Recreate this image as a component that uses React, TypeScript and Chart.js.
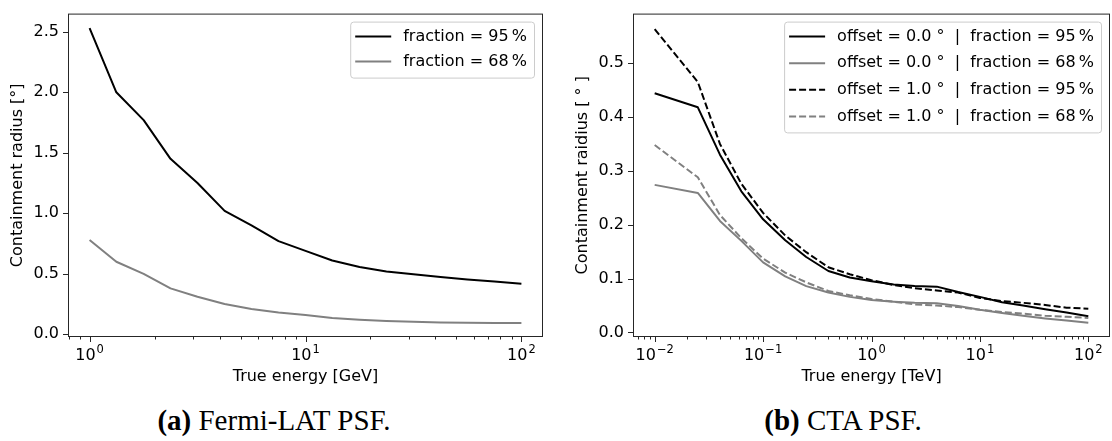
import React, { useEffect, useLayoutEffect, useRef } from 'react';
import { Chart, registerables } from 'chart.js';

Chart.register(...registerables);

const FONT = "'DejaVu Sans', sans-serif";

// ---------- (a) Fermi-LAT PSF ----------
const FERMI_ENERGY_GEV = [1, 1.33, 1.78, 2.37, 3.16, 4.22, 5.62, 7.5, 10, 13.3, 17.8, 23.7, 31.6, 42.2, 56.2, 75, 100];
const FERMI_R95 = [2.53, 2.0, 1.77, 1.45, 1.25, 1.02, 0.9, 0.77, 0.69, 0.61, 0.556, 0.52, 0.497, 0.473, 0.454, 0.436, 0.417];
const FERMI_R68 = [0.78, 0.6, 0.5, 0.38, 0.31, 0.25, 0.21, 0.18, 0.16, 0.135, 0.12, 0.11, 0.103, 0.098, 0.095, 0.094, 0.093];
const FERMI_X_TICKS = [1, 10, 100];
const FERMI_X_EXPONENTS = ['0', '1', '2'];
const FERMI_Y_TICKS = [0, 0.5, 1.0, 1.5, 2.0, 2.5];
const FERMI_LABELS = ['fraction = 95\u2009%', 'fraction = 68\u2009%'];

// ---------- (b) CTA PSF ----------
const CTA_ENERGY_TEV = [0.01, 0.025, 0.04, 0.063, 0.1, 0.16, 0.25, 0.4, 0.63, 1, 1.6, 2.5, 4, 6.3, 10, 16, 25, 40, 63, 100];
const CTA_OFF0_R95 = [0.444, 0.418, 0.33, 0.262, 0.21, 0.171, 0.14, 0.114, 0.102, 0.095, 0.089, 0.086, 0.085, 0.075, 0.066, 0.056, 0.05, 0.043, 0.037, 0.03];
const CTA_OFF0_R68 = [0.274, 0.259, 0.207, 0.17, 0.13, 0.104, 0.086, 0.074, 0.066, 0.06, 0.057, 0.055, 0.054, 0.049, 0.042, 0.036, 0.031, 0.026, 0.022, 0.018];
const CTA_OFF1_R95 = [0.563, 0.465, 0.35, 0.276, 0.222, 0.18, 0.149, 0.121, 0.108, 0.097, 0.088, 0.082, 0.078, 0.074, 0.064, 0.058, 0.055, 0.051, 0.046, 0.044];
const CTA_OFF1_R68 = [0.348, 0.288, 0.218, 0.175, 0.137, 0.111, 0.093, 0.077, 0.069, 0.062, 0.057, 0.052, 0.05, 0.047, 0.042, 0.038, 0.035, 0.031, 0.029, 0.027];
const CTA_X_TICKS = [0.01, 0.1, 1, 10, 100];
const CTA_X_EXPONENTS = ['\u22122', '\u22121', '0', '1', '2'];
const CTA_Y_TICKS = [0, 0.1, 0.2, 0.3, 0.4, 0.5];
const CTA_LABELS = [
  'offset = 0.0 \u00B0  |  fraction = 95\u2009%',
  'offset = 0.0 \u00B0  |  fraction = 68\u2009%',
  'offset = 1.0 \u00B0  |  fraction = 95\u2009%',
  'offset = 1.0 \u00B0  |  fraction = 68\u2009%',
];

const BLACK = '#000000';
const GRAY = '#808080';
const DASH = [7, 3];

const W = 556;
const H = 400;

const pts = (xs: number[], ys: number[]) => xs.map((x, i) => ({ x, y: ys[i] }));

const mplPlugin = {
  id: 'mpl',
  afterDraw(chart: any, _args: any, opts: any) {
    const { ctx, chartArea: a, scales } = chart;
    const xs = scales.x;
    const ys = scales.y;
    ctx.save();
    ctx.strokeStyle = '#262626';
    ctx.lineWidth = 1;
    ctx.setLineDash([]);
    ctx.beginPath();
    const lo = Math.floor(Math.log10(xs.min));
    const hi = Math.ceil(Math.log10(xs.max));
    for (let d = lo; d <= hi; d++) {
      for (let k = 1; k <= 9; k++) {
        const v = k * Math.pow(10, d);
        if (v < xs.min || v > xs.max) continue;
        const px = Math.round(xs.getPixelForValue(v)) + 0.5;
        const len = k === 1 ? 5 : 2.5;
        ctx.moveTo(px, a.bottom);
        ctx.lineTo(px, a.bottom + len);
      }
    }
    ys.ticks.forEach((t: any) => {
      const py = Math.round(ys.getPixelForValue(t.value)) + 0.5;
      ctx.moveTo(a.left, py);
      ctx.lineTo(a.left - 5, py);
    });
    ctx.stroke();
    ctx.strokeRect(a.left + 0.5, a.top + 0.5, a.right - a.left - 1, a.bottom - a.top - 1);

    // x tick labels as 10^n with a real superscript
    const exps: string[] = opts.exponents;
    ctx.fillStyle = '#000';
    ctx.textBaseline = 'alphabetic';
    ctx.textAlign = 'left';
    xs.ticks.forEach((t: any, i: number) => {
      const px = xs.getPixelForValue(t.value);
      ctx.font = `16px ${FONT}`;
      const wb = ctx.measureText('10').width;
      ctx.font = `11.5px ${FONT}`;
      const we = ctx.measureText(exps[i]).width;
      const x0 = px - (wb + we + 1) / 2;
      const base = a.bottom + 23;
      ctx.font = `16px ${FONT}`;
      ctx.fillText('10', x0, base);
      ctx.font = `11.5px ${FONT}`;
      ctx.fillText(exps[i], x0 + wb + 1, base - 7);
    });

    // legend (matplotlib style, upper right)
    const items = chart.data.datasets;
    ctx.font = `16px ${FONT}`;
    const tw = Math.max(...items.map((d: any) => ctx.measureText(d.label).width));
    const rowH = opts.rowHeight;
    const w = 5 + 36 + 12 + tw + 7;
    const h = 15 + rowH * (items.length - 1) + 16;
    const lx = a.right - 9 - w;
    const ly = a.top + 8;
    ctx.beginPath();
    ctx.roundRect(lx + 0.5, ly + 0.5, w, h, 3);
    ctx.fillStyle = 'rgba(255,255,255,0.8)';
    ctx.fill();
    ctx.strokeStyle = '#cccccc';
    ctx.lineWidth = 1;
    ctx.stroke();
    items.forEach((d: any, i: number) => {
      const cy = ly + 15 + i * rowH;
      ctx.beginPath();
      ctx.strokeStyle = d.borderColor;
      ctx.lineWidth = d.borderWidth;
      ctx.setLineDash(d.borderDash || []);
      ctx.moveTo(lx + 5, cy);
      ctx.lineTo(lx + 41, cy);
      ctx.stroke();
      ctx.setLineDash([]);
      ctx.fillStyle = '#000';
      ctx.textBaseline = 'middle';
      ctx.textAlign = 'left';
      ctx.font = `16px ${FONT}`;
      ctx.fillText(d.label, lx + 53, cy);
    });
    ctx.restore();
  },
};

function makeConfig(p: {
  datasets: any[];
  xMin: number; xMax: number; xTicks: number[]; xExponents: string[]; xTitle: string;
  yMin: number; yMax: number; yTicks: number[]; yTitle: string;
  yAxisWidth: number; yTitlePad: number; rightPad: number; rowHeight: number;
}) {
  return {
    type: 'line',
    data: { datasets: p.datasets },
    plugins: [mplPlugin],
    options: {
      animation: false,
      responsive: false,
      layout: { padding: { top: 4, right: p.rightPad, left: 0, bottom: 0 } },
      plugins: {
        legend: { display: false },
        tooltip: { enabled: false },
        mpl: { rowHeight: p.rowHeight, exponents: p.xExponents },
      },
      elements: { point: { radius: 0 }, line: { tension: 0, borderCapStyle: 'butt', borderJoinStyle: 'round' } },
      scales: {
        x: {
          type: 'logarithmic',
          min: p.xMin,
          max: p.xMax,
          afterBuildTicks: (s: any) => { s.ticks = p.xTicks.map((v) => ({ value: v })); },
          afterFit: (s: any) => { s.height = H - 337; },
          grid: { display: true, drawOnChartArea: false, drawTicks: true, tickLength: 5, color: 'rgba(0,0,0,0)' },
          border: { display: false },
          ticks: {
            autoSkip: false, maxRotation: 0, padding: 2, color: 'rgba(0,0,0,0)',
            font: { family: FONT, size: 16 },
            callback: (_v: any, i: number) => '10' + p.xExponents[i],
          },
          title: { display: true, text: p.xTitle, color: '#000', font: { family: FONT, size: 16 }, padding: { top: 0, bottom: 14 } },
        },
        y: {
          type: 'linear',
          min: p.yMin,
          max: p.yMax,
          afterBuildTicks: (s: any) => { s.ticks = p.yTicks.map((v) => ({ value: v })); },
          afterFit: (s: any) => { s.width = p.yAxisWidth; },
          grid: { display: true, drawOnChartArea: false, drawTicks: true, tickLength: 5, color: 'rgba(0,0,0,0)' },
          border: { display: false },
          ticks: {
            autoSkip: false, padding: 4, color: '#000',
            font: { family: FONT, size: 16 },
            callback: (v: any) => Number(v).toFixed(1),
          },
          title: { display: true, text: p.yTitle, color: '#000', font: { family: FONT, size: 16 }, padding: { top: p.yTitlePad, bottom: 0 } },
        },
      },
    },
  };
}

function ChartCanvas({ config, left }: { config: any; left: number }) {
  const ref = useRef<HTMLCanvasElement>(null);
  useEffect(() => {
    const c = new Chart(ref.current as HTMLCanvasElement, config);
    return () => c.destroy();
  }, [config]);
  return <canvas ref={ref} width={W} height={H} style={{ position: 'absolute', left, top: 0, width: W, height: H }} />;
}

const line = (label: string, xs: number[], ys: number[], color: string, dashed: boolean, order: number) => ({
  label,
  data: pts(xs, ys),
  borderColor: color,
  backgroundColor: color,
  borderWidth: 2,
  borderDash: dashed ? DASH : [],
  fill: false,
  pointRadius: 0,
  order,
});

const fermiConfig = makeConfig({
  datasets: [
    line(FERMI_LABELS[0], FERMI_ENERGY_GEV, FERMI_R95, BLACK, false, 2),
    line(FERMI_LABELS[1], FERMI_ENERGY_GEV, FERMI_R68, GRAY, false, 1),
  ],
  xMin: Math.pow(10, -0.1), xMax: Math.pow(10, 2.1), xTicks: FERMI_X_TICKS, xExponents: FERMI_X_EXPONENTS,
  xTitle: 'True energy [GeV]',
  yMin: -0.022, yMax: 2.65, yTicks: FERMI_Y_TICKS, yTitle: 'Containment radius [\u00B0]',
  yAxisWidth: 68, yTitlePad: 8, rightPad: W - 543, rowHeight: 25,
});

const ctaConfig = makeConfig({
  datasets: [
    line(CTA_LABELS[0], CTA_ENERGY_TEV, CTA_OFF0_R95, BLACK, false, 4),
    line(CTA_LABELS[1], CTA_ENERGY_TEV, CTA_OFF0_R68, GRAY, false, 3),
    line(CTA_LABELS[2], CTA_ENERGY_TEV, CTA_OFF1_R95, BLACK, true, 2),
    line(CTA_LABELS[3], CTA_ENERGY_TEV, CTA_OFF1_R68, GRAY, true, 1),
  ],
  xMin: Math.pow(10, -2.2), xMax: Math.pow(10, 2.2), xTicks: CTA_X_TICKS, xExponents: CTA_X_EXPONENTS,
  xTitle: 'True energy [TeV]',
  yMin: -0.0085, yMax: 0.592, yTicks: CTA_Y_TICKS, yTitle: 'Containment raidius [ \u00B0 ]',
  yAxisWidth: 77, yTitlePad: 17, rightPad: W - 554, rowHeight: 26.6,
});

const captionStyle: React.CSSProperties = {
  position: 'absolute',
  top: 406,
  width: 400,
  textAlign: 'center',
  fontFamily: "'Liberation Serif', serif",
  fontSize: 29,
  lineHeight: '29px',
  color: '#000',
  whiteSpace: 'nowrap',
};

export default function App() {
  useLayoutEffect(() => {
    document.body.style.margin = '0';
  }, []);
  return (
    <div style={{ position: 'relative', width: 1112, height: 441, background: '#fff', overflow: 'hidden' }}>
      <ChartCanvas config={fermiConfig} left={0} />
      <ChartCanvas config={ctaConfig} left={556} />
      <div style={{ ...captionStyle, left: 274 - 200 }}>
        <b>(a)</b> Fermi-LAT PSF.
      </div>
      <div style={{ ...captionStyle, left: 843 - 200 }}>
        <b>(b)</b> CTA PSF.
      </div>
    </div>
  );
}
